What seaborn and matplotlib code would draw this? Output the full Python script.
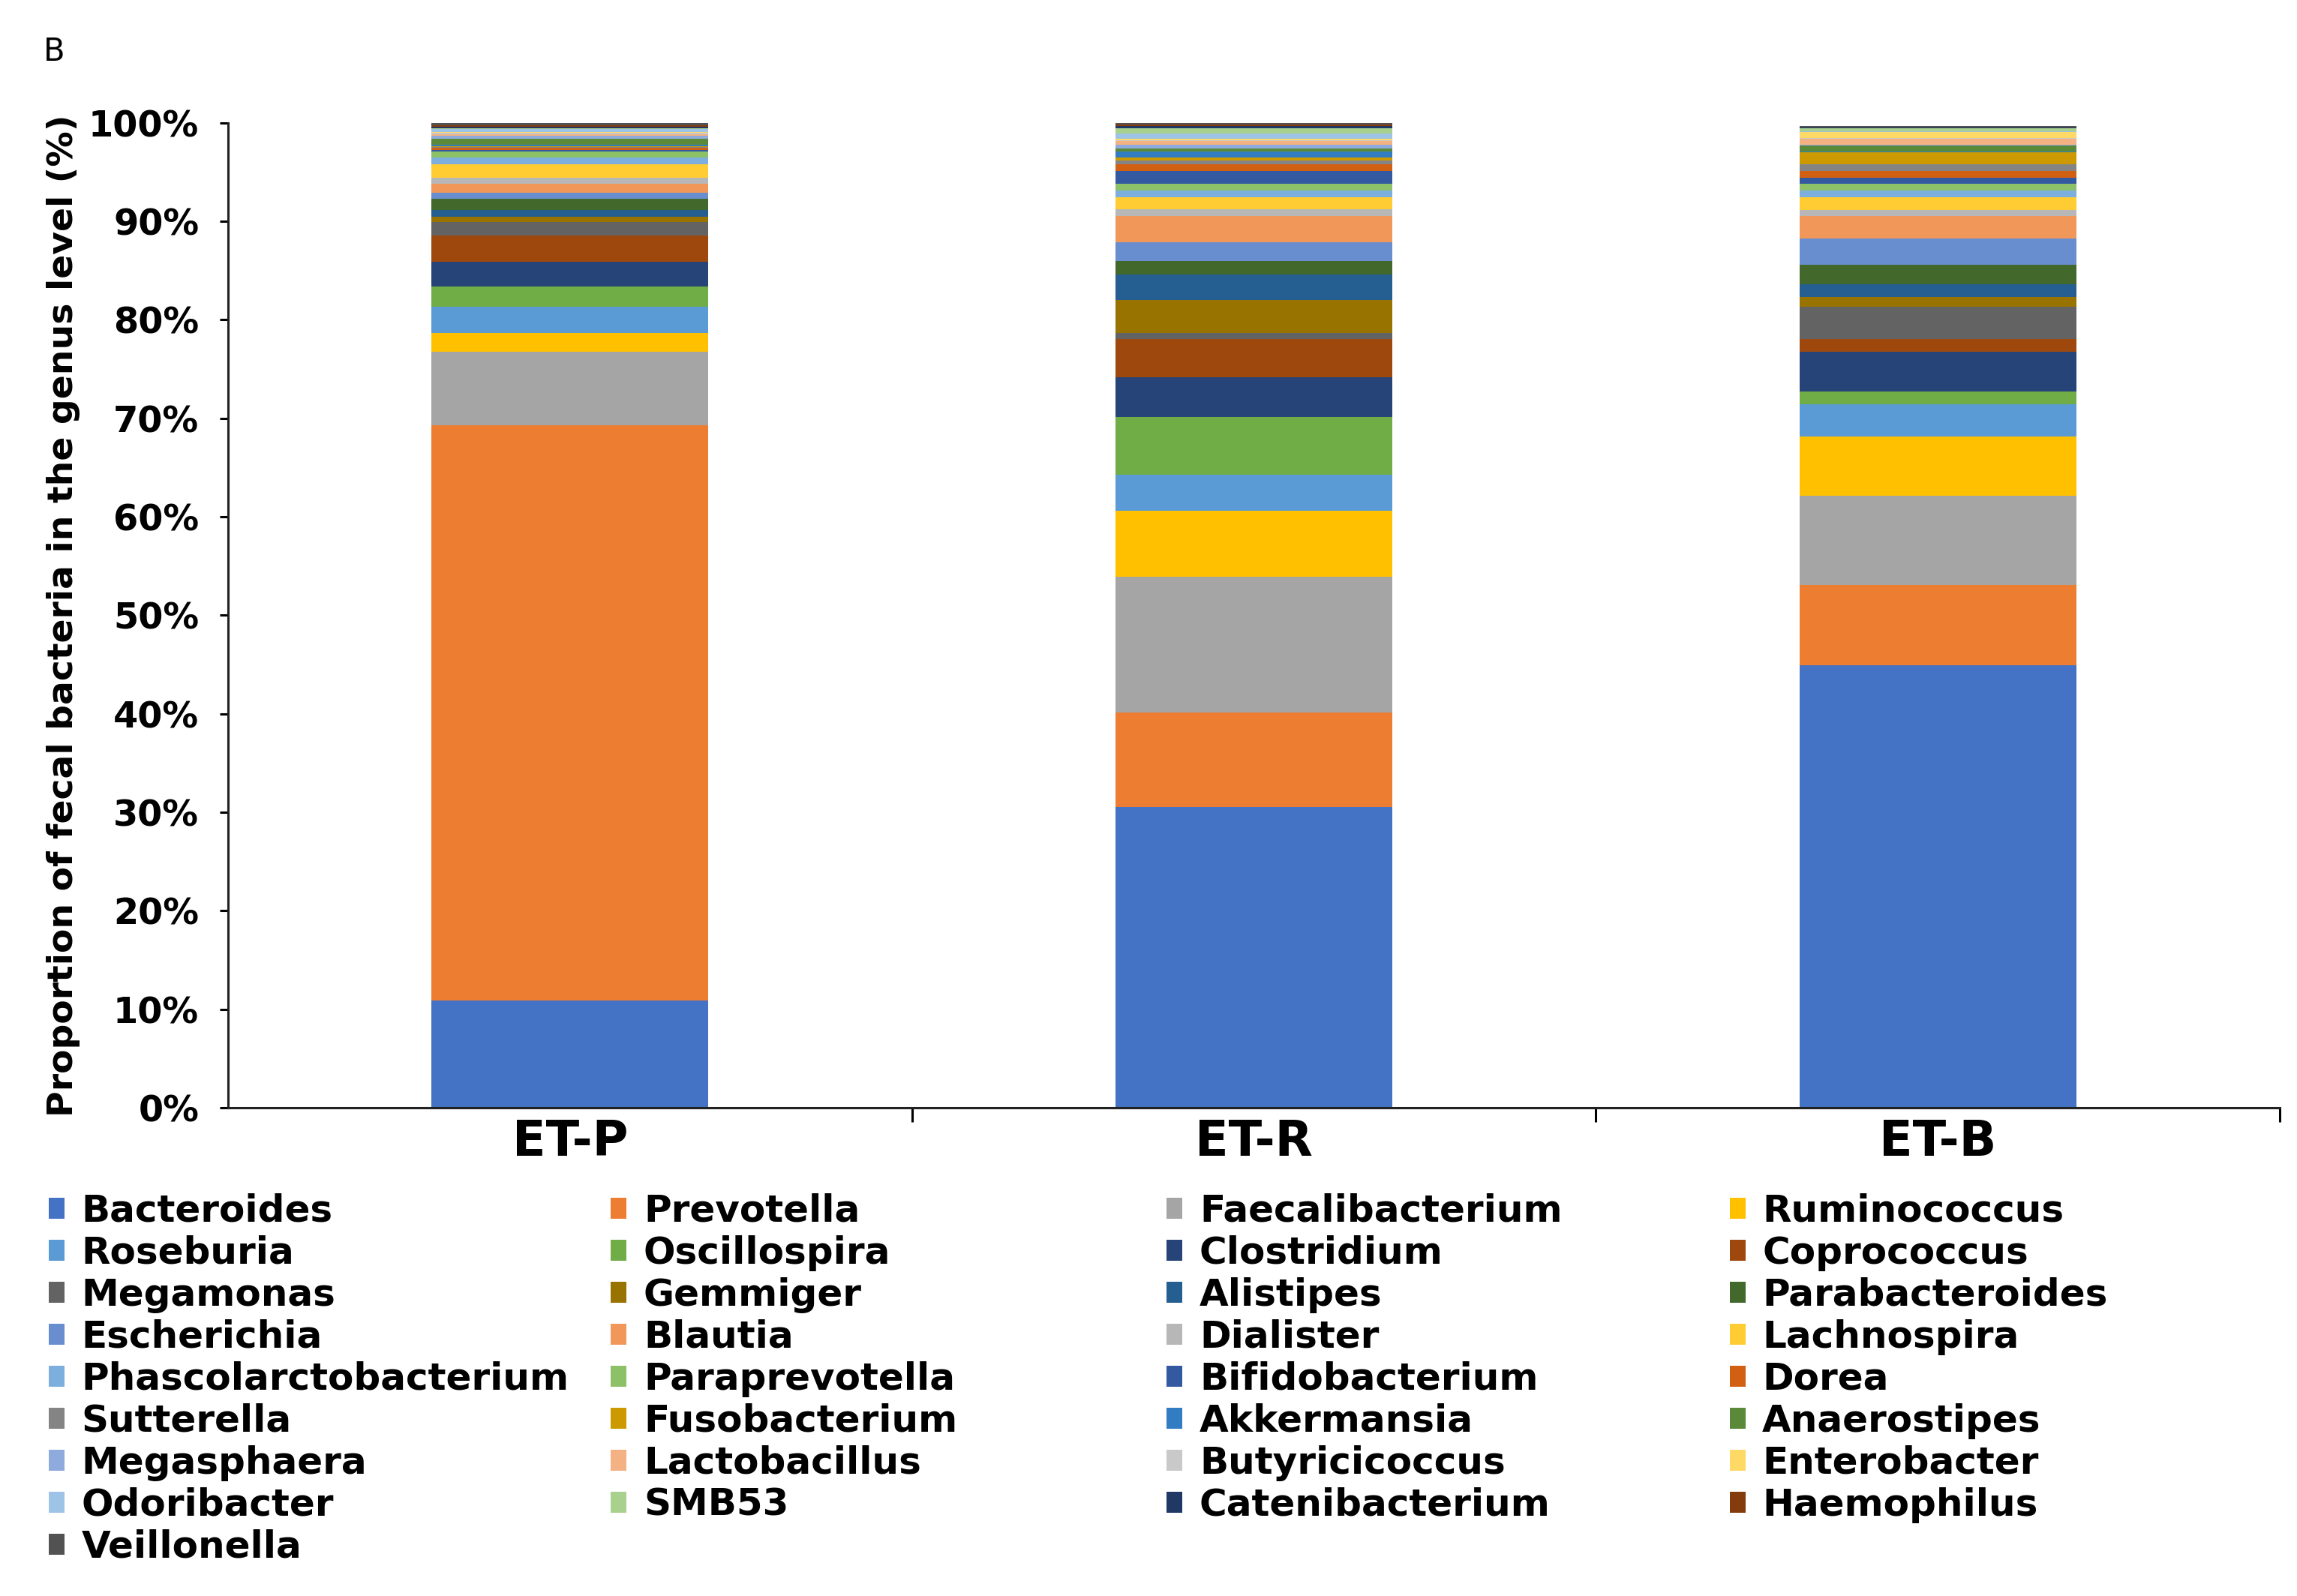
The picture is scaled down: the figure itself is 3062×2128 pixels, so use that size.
import numpy as np
import pandas as pd
import matplotlib
matplotlib.use("Agg")
import matplotlib.pyplot as plt
from matplotlib.patches import Patch
from matplotlib.ticker import FixedLocator, FuncFormatter
import seaborn as sns

# genera in stacking order (bottom -> top)
genera = ['Bacteroides', 'Prevotella', 'Faecalibacterium', 'Ruminococcus',
          'Roseburia', 'Oscillospira', 'Clostridium', 'Coprococcus',
          'Megamonas', 'Gemmiger', 'Alistipes', 'Parabacteroides',
          'Escherichia', 'Blautia', 'Dialister', 'Lachnospira',
          'Phascolarctobacterium', 'Paraprevotella', 'Bifidobacterium', 'Dorea',
          'Sutterella', 'Fusobacterium', 'Akkermansia', 'Anaerostipes',
          'Megasphaera', 'Lactobacillus', 'Butyricicoccus', 'Enterobacter',
          'Odoribacter', 'SMB53', 'Catenibacterium', 'Haemophilus',
          'Veillonella']
groups = ['ET-P', 'ET-R', 'ET-B']

# relative abundance (%)
et_p = [10.9, 58.4, 7.45, 1.92, 2.63, 2.1, 2.5, 2.67,
        1.33, 0.6, 0.66, 1.1, 0.65, 0.92, 0.63, 1.33,
        0.66, 0.63, 0.15, 0.23, 0.1, 0.1, 0.11, 0.63,
        0.33, 0.15, 0.1, 0.1, 0.33, 0.05, 0.15, 0.15, 0.24]
et_r = [30.5, 9.6, 13.8, 6.7, 3.66, 5.88, 4.02, 3.9,
        0.6, 3.37, 2.59, 1.34, 1.95, 2.62, 0.69, 1.26,
        0.67, 0.68, 1.3, 0.66, 0.4, 0.26, 0.68, 0.3,
        0.34, 0.4, 0.1, 0.13, 0.5, 0.52, 0.3, 0.08, 0.2]
et_b = [44.9, 8.2, 9.0, 6.09, 3.25, 1.32, 3.98, 1.35,
        3.22, 1.0, 1.29, 2.0, 2.65, 2.28, 0.64, 1.31,
        0.67, 0.68, 0.63, 0.69, 0.66, 1.22, 0.1, 0.54,
        0.1, 0.63, 0.1, 0.59, 0.05, 0.28, 0.1, 0.05, 0.15]

# Excel office palette
colors = ['#4472C4', '#ED7D31', '#A5A5A5', '#FFC000', '#5B9BD5', '#70AD47',
          '#264478', '#9E480E', '#636363', '#997300', '#255E91', '#43682B',
          '#698ED0', '#F1975A', '#B7B7B7', '#FFCD33', '#7CAFDD', '#8CC168',
          '#335AA1', '#D26012', '#848484', '#CC9A00', '#327DC2', '#5A8A39',
          '#8FAADC', '#F4B183', '#C9C9C9', '#FFD966', '#9DC3E6', '#A9D18E',
          '#1F3864', '#843C0C', '#525252']
palette = dict(zip(genera, colors))

df = pd.DataFrame({
    'group': np.repeat(groups, len(genera)),
    'genus': genera * 3,
    'value': et_p + et_r + et_b,
})

fig = plt.figure(figsize=(15.31, 10.64), dpi=200)
ax = fig.add_axes([0.0993, 0.306, 0.8932, 0.617])

sns.histplot(data=df, x='group', weights='value', hue='genus',
             hue_order=genera[::-1], palette=palette, multiple='stack',
             discrete=True, shrink=0.405, alpha=1, linewidth=0,
             legend=False, ax=ax)

ax.set_xlim(-0.5, 2.5)
ax.set_ylim(0, 100)
ax.set_yticks(np.arange(0, 101, 10))
ax.yaxis.set_major_formatter(FuncFormatter(lambda v, p: f'{v:.0f}%'))
ax.set_xticks([0, 1, 2])
ax.set_xticklabels(groups)
ax.xaxis.set_minor_locator(FixedLocator([0.5, 1.5, 2.5]))
ax.tick_params(axis='x', which='major', length=0, pad=5, labelsize=23.5)
ax.tick_params(axis='x', which='minor', length=7, width=1.1, direction='out')
ax.tick_params(axis='y', length=4, width=1.1, pad=10, labelsize=17.2)
for lab in ax.get_xticklabels() + ax.get_yticklabels():
    lab.set_fontweight('bold')
ax.set_xlabel('')
ax.set_ylabel('Proportion of fecal bacteria in the genus level (%)',
              fontsize=17, fontweight='bold', labelpad=4)
for s in ['top', 'right']:
    ax.spines[s].set_visible(False)
for s in ['left', 'bottom']:
    ax.spines[s].set_linewidth(1.1)
    ax.spines[s].set_color('#222222')

fig.text(0.019, 1 - 69 / 2128, 'B', fontsize=15, va='center')

# legend laid out row-wise in 4 evenly spaced columns
col_x = [0.0212, 0.266, 0.508, 0.753]
for c in range(4):
    names = genera[c::4]
    handles = [Patch(facecolor=palette[g], edgecolor='none') for g in names]
    fig.legend(handles, names, loc='upper left',
               bbox_to_anchor=(col_x[c], 0.2525), frameon=False,
               handlelength=0.42, handleheight=0.5, handletextpad=0.45,
               labelspacing=0.16, borderpad=0, borderaxespad=0,
               prop={'size': 18, 'weight': 'bold'})

fig.savefig('out.png', dpi=200)
